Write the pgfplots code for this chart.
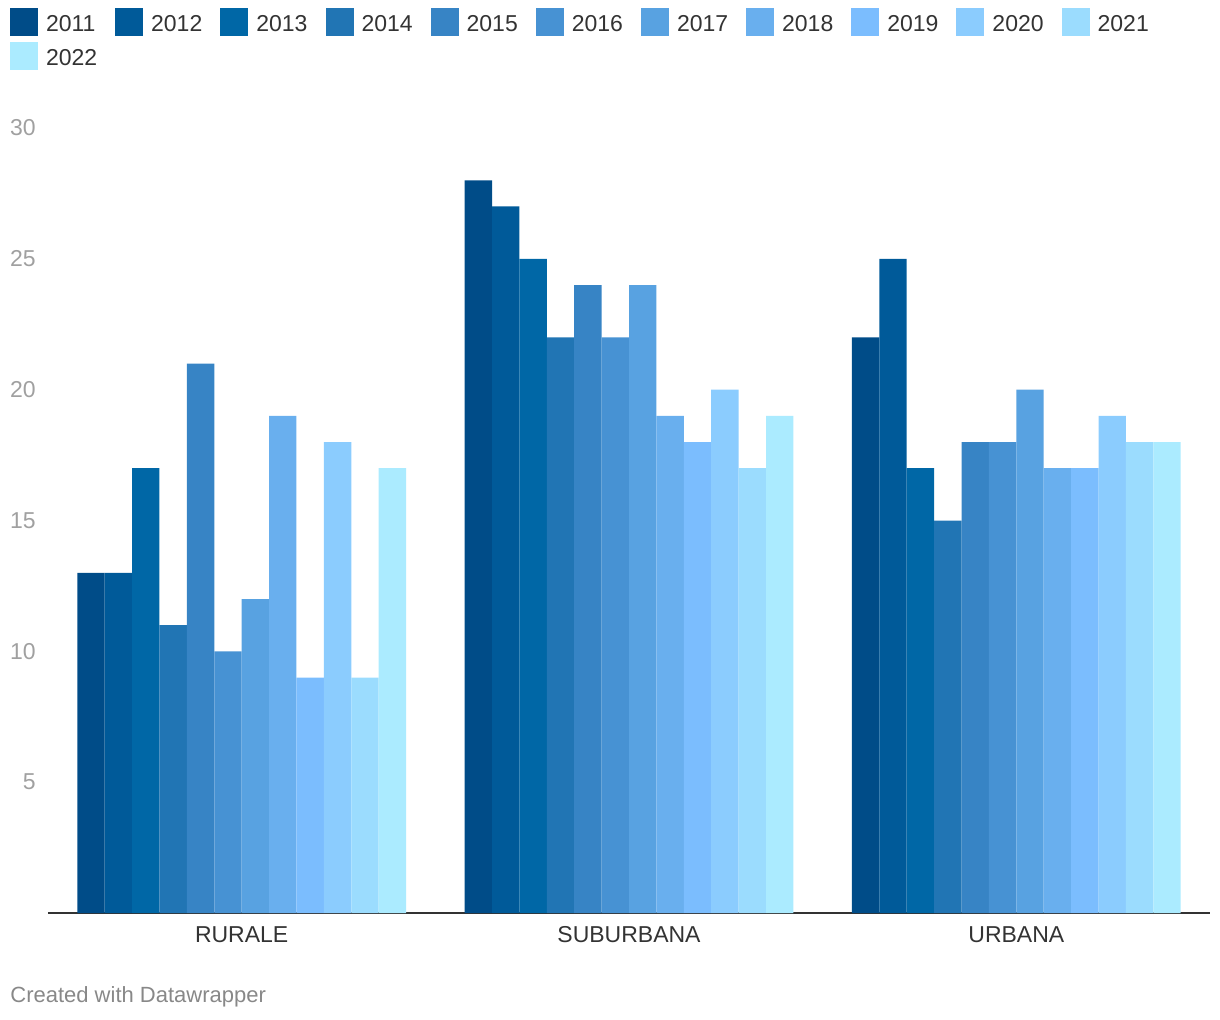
\documentclass[border=0pt]{standalone}
\usepackage{pgfplots}
\pgfplotsset{compat=1.18}
\usepackage{fontspec}
\setmainfont{Liberation Sans}
\definecolor{c1}{HTML}{004C88}
\definecolor{c2}{HTML}{005A99}
\definecolor{c3}{HTML}{0067A6}
\definecolor{c4}{HTML}{2175B4}
\definecolor{c5}{HTML}{3784C5}
\definecolor{c6}{HTML}{4792D3}
\definecolor{c7}{HTML}{58A2E1}
\definecolor{c8}{HTML}{69AFEE}
\definecolor{c9}{HTML}{7BBDFE}
\definecolor{c10}{HTML}{8BCCFE}
\definecolor{c11}{HTML}{9BDCFE}
\definecolor{c12}{HTML}{ABEBFF}
\definecolor{txt}{HTML}{333333}
\definecolor{tick}{HTML}{A0A0A0}
\definecolor{cred}{HTML}{888888}
\begin{document}
\begin{tikzpicture}
\path[use as bounding box] (0pt,0pt) rectangle (610pt,-510pt);
\begin{axis}[
  at={(24pt,-456.5pt)}, anchor=south west,
  scale only axis,
  width=581pt, height=392.5pt,
  xmin=-0.5, xmax=2.5, ymin=0, ymax=30,
  ybar=0pt, bar width=13.7pt,
  axis lines=left,
  axis line style={-},
  y axis line style={draw=none},
  x axis line style={draw=txt, line width=1pt},
  major tick length=0pt,
  xtick={0,1,2},
  xticklabels={RURALE,SUBURBANA,URBANA},
  ytick={5,10,15,20,25,30},
  /pgf/number format/assume math mode=true,
  tick label style={font=\fontsize{11.5}{13}\selectfont},
  yticklabel style={text=tick, inner sep=0pt, xshift=-6pt, anchor=east},
  xticklabel style={text=txt, inner sep=0pt, yshift=-6.5pt, anchor=north},
  clip=false,
  legend columns=11,
  legend cell align=left,
  legend style={at={(-0.0327,1.1529)}, anchor=north west, draw=none, fill=none,
    inner sep=0pt, outer sep=0pt,
    font=\fontsize{11.5}{13}\selectfont, text=txt,
    column sep=0pt, row sep=3pt,
    /tikz/every even column/.append style={column sep=9pt},
    nodes={inner sep=0pt}},
  legend image code/.code={\fill[#1] (0pt,-5.5pt) rectangle (14pt,8.5pt); \path (18pt,0pt);},
]
\addplot[fill=c1, draw=none] coordinates {(0,13) (1,28) (2,22)};
\addplot[fill=c2, draw=none] coordinates {(0,13) (1,27) (2,25)};
\addplot[fill=c3, draw=none] coordinates {(0,17) (1,25) (2,17)};
\addplot[fill=c4, draw=none] coordinates {(0,11) (1,22) (2,15)};
\addplot[fill=c5, draw=none] coordinates {(0,21) (1,24) (2,18)};
\addplot[fill=c6, draw=none] coordinates {(0,10) (1,22) (2,18)};
\addplot[fill=c7, draw=none] coordinates {(0,12) (1,24) (2,20)};
\addplot[fill=c8, draw=none] coordinates {(0,19) (1,19) (2,17)};
\addplot[fill=c9, draw=none] coordinates {(0,9) (1,18) (2,17)};
\addplot[fill=c10, draw=none] coordinates {(0,18) (1,20) (2,19)};
\addplot[fill=c11, draw=none] coordinates {(0,9) (1,17) (2,18)};
\addplot[fill=c12, draw=none] coordinates {(0,17) (1,19) (2,18)};
\legend{2011,2012,2013,2014,2015,2016,2017,2018,2019,2020,2021,2022}
\end{axis}
\node[anchor=west, inner sep=0pt, text=cred, font=\fontsize{11}{13}\selectfont] at (5pt,-498.5pt) {Created with Datawrapper};
\end{tikzpicture}
\end{document}
